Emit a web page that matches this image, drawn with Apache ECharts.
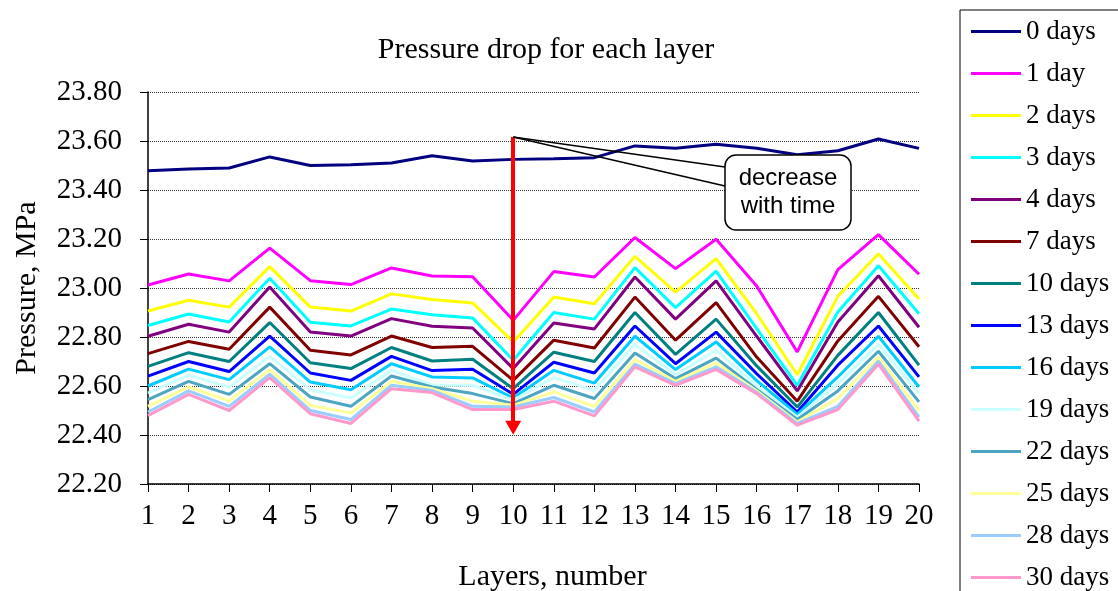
<!DOCTYPE html>
<html>
<head>
<meta charset="utf-8">
<title>Pressure drop for each layer</title>
<script src="https://cdn.jsdelivr.net/npm/echarts@6/dist/echarts.min.js"></script>
<style>
  html, body { margin: 0; padding: 0; background: #fff; }
  #chart { width: 1118px; height: 591px; }
</style>
</head>
<body>
<div id="chart"></div>
<script>
// layers on the x axis
const layers = ['1', '2', '3', '4', '5', '6', '7', '8', '9', '10',
  '11', '12', '13', '14', '15', '16', '17', '18', '19', '20']

const seriesNames = ['0 days', '1 day', '2 days', '3 days', '4 days', '7 days', '10 days',
  '13 days', '16 days', '19 days', '22 days', '25 days', '28 days', '30 days']

// pressure, MPa
const days0 = [23.479, 23.486, 23.490, 23.535, 23.500, 23.503, 23.510, 23.540, 23.518, 23.525,
  23.528, 23.532, 23.580, 23.570, 23.587, 23.570, 23.544, 23.560, 23.608, 23.570]
const days1 = [23.012, 23.057, 23.029, 23.163, 23.030, 23.014, 23.082, 23.049, 23.046, 22.868,
  23.067, 23.045, 23.206, 23.079, 23.199, 23.008, 22.739, 23.075, 23.218, 23.056]
const days2 = [22.906, 22.950, 22.922, 23.087, 22.922, 22.906, 22.976, 22.953, 22.939, 22.780,
  22.963, 22.936, 23.129, 22.983, 23.120, 22.895, 22.646, 22.966, 23.140, 22.955]
const days3 = [22.847, 22.894, 22.861, 23.040, 22.860, 22.845, 22.914, 22.891, 22.878, 22.705,
  22.900, 22.873, 23.083, 22.920, 23.069, 22.834, 22.603, 22.902, 23.091, 22.895]
const days4 = [22.803, 22.852, 22.820, 23.004, 22.820, 22.804, 22.875, 22.844, 22.837, 22.671,
  22.857, 22.833, 23.045, 22.873, 23.029, 22.803, 22.580, 22.861, 23.050, 22.840]
const days7 = [22.732, 22.782, 22.750, 22.922, 22.746, 22.727, 22.804, 22.757, 22.762, 22.623,
  22.787, 22.755, 22.963, 22.787, 22.940, 22.718, 22.538, 22.784, 22.966, 22.760]
const days10 = [22.680, 22.736, 22.700, 22.859, 22.695, 22.671, 22.757, 22.702, 22.709, 22.589,
  22.738, 22.700, 22.900, 22.729, 22.873, 22.682, 22.514, 22.725, 22.900, 22.685]
const days13 = [22.640, 22.700, 22.659, 22.804, 22.653, 22.623, 22.721, 22.663, 22.668, 22.566,
  22.697, 22.653, 22.845, 22.691, 22.820, 22.650, 22.494, 22.685, 22.845, 22.637]
const days16 = [22.600, 22.669, 22.626, 22.760, 22.616, 22.585, 22.691, 22.637, 22.633, 22.551,
  22.664, 22.612, 22.803, 22.667, 22.780, 22.622, 22.484, 22.637, 22.803, 22.596]
const days19 = [22.571, 22.644, 22.596, 22.721, 22.585, 22.551, 22.664, 22.603, 22.603, 22.542,
  22.634, 22.582, 22.770, 22.646, 22.746, 22.600, 22.473, 22.610, 22.770, 22.569]
const days22 = [22.544, 22.619, 22.566, 22.691, 22.555, 22.517, 22.641, 22.596, 22.569, 22.528,
  22.603, 22.549, 22.735, 22.630, 22.714, 22.586, 22.463, 22.580, 22.742, 22.535]
const days25 = [22.517, 22.596, 22.539, 22.667, 22.521, 22.490, 22.619, 22.589, 22.538, 22.521,
  22.576, 22.517, 22.708, 22.619, 22.694, 22.580, 22.453, 22.549, 22.718, 22.500]
const days28 = [22.494, 22.580, 22.517, 22.648, 22.500, 22.463, 22.603, 22.582, 22.517, 22.514,
  22.553, 22.494, 22.689, 22.610, 22.678, 22.574, 22.447, 22.517, 22.702, 22.473]
const days30 = [22.479, 22.566, 22.500, 22.634, 22.487, 22.447, 22.589, 22.573, 22.504, 22.504,
  22.538, 22.478, 22.678, 22.603, 22.668, 22.569, 22.440, 22.504, 22.689, 22.457]

const allData = [days0, days1, days2, days3, days4, days7, days10,
  days13, days16, days19, days22, days25, days28, days30]

// arrow "decrease with time" at layer 10
const arrowLayer = '10'
const arrowFrom = 23.616
const arrowTo = 22.43

const colors = ['#000080', '#ff00ff', '#ffff00', '#00ffff', '#800080', '#800000', '#008080',
  '#0000ff', '#00ccff', '#ccffff', '#4ba5c3', '#ffff99', '#99ccff', '#ff99cc']

const serif = 'Liberation Serif, Times New Roman, serif'

const chart = echarts.init(document.getElementById('chart'))

let series = allData.map((data, i) => ({
  name: seriesNames[i],
  type: 'line',
  data: data,
  symbol: 'none',
  lineStyle: { width: 3, color: colors[i] },
  itemStyle: { color: colors[i] },
  emphasis: { disabled: true }
}))

// red arrow lives on the last series so it is drawn on top
series[series.length - 1].markLine = {
  silent: true,
  symbol: ['none', 'triangle'],
  symbolSize: [16, 14],
  label: { show: false },
  lineStyle: { color: '#ff0000', width: 4, type: 'solid' },
  itemStyle: { color: '#ff0000' },
  data: [[{ coord: [arrowLayer, arrowFrom] }, { coord: [arrowLayer, arrowTo] }]]
}

chart.setOption({
  animation: false,
  color: colors,
  title: {
    text: 'Pressure drop for each layer',
    left: 541,
    top: 30,
    textAlign: 'center',
    textStyle: { fontFamily: serif, fontSize: 30, fontWeight: 'normal', color: '#000' }
  },
  legend: {
    orient: 'vertical',
    left: 960,
    top: 10,
    height: 800,
    data: seriesNames,
    selectedMode: false,
    icon: 'rect',
    itemWidth: 50,
    itemHeight: 3,
    itemGap: 15,
    padding: [8, 60, 40, 11],
    borderColor: '#000',
    borderWidth: 1,
    textStyle: { fontFamily: serif, fontSize: 27, color: '#000' }
  },
  grid: {
    left: 148,
    right: 199,
    top: 92,
    bottom: 107,
    outerBoundsMode: 'none'
  },
  xAxis: {
    type: 'category',
    data: layers,
    boundaryGap: false,
    name: 'Layers, number',
    nameLocation: 'middle',
    nameGap: 78,
    nameTextStyle: { fontFamily: serif, fontSize: 30, color: '#000', padding: [0, 0, 0, 38] },
    axisLine: { lineStyle: { color: '#000', width: 1.5 } },
    axisTick: { length: 8, lineStyle: { color: '#000' } },
    axisLabel: { margin: 18, fontFamily: serif, fontSize: 29, color: '#000' }
  },
  yAxis: {
    type: 'value',
    min: 22.2,
    max: 23.8,
    interval: 0.2,
    name: 'Pressure, MPa',
    nameLocation: 'middle',
    nameGap: 106,
    nameTextStyle: { fontFamily: serif, fontSize: 30, color: '#000' },
    axisLine: { show: true, lineStyle: { color: '#000', width: 1.5 } },
    axisTick: { show: true, length: 8, lineStyle: { color: '#000' } },
    axisLabel: {
      margin: 26,
      fontFamily: serif,
      fontSize: 29,
      color: '#000',
      formatter: v => v.toFixed(2)
    },
    splitLine: { lineStyle: { color: '#333', type: 'dotted', width: 1 } }
  },
  series: series
})

// callout box with its two tail lines, tail starts at the arrow top
const tip = chart.convertToPixel({ xAxisIndex: 0, yAxisIndex: 0 }, [arrowLayer, arrowFrom])
const box = { x: 725, y: 155, w: 126, h: 75 }

chart.setOption({
  graphic: [
    {
      type: 'line',
      z: 100,
      shape: { x1: tip[0], y1: tip[1], x2: box.x, y2: box.y + 12 },
      style: { stroke: '#000', lineWidth: 1.5 }
    },
    {
      type: 'line',
      z: 100,
      shape: { x1: tip[0], y1: tip[1], x2: box.x, y2: box.y + 31 },
      style: { stroke: '#000', lineWidth: 1.5 }
    },
    {
      type: 'rect',
      z: 101,
      shape: { x: box.x, y: box.y, width: box.w, height: box.h, r: 11 },
      style: { fill: '#fff', stroke: '#000', lineWidth: 1.5 }
    },
    {
      type: 'text',
      z: 102,
      x: box.x + box.w / 2,
      y: box.y + box.h / 2,
      style: {
        text: 'decrease\nwith time',
        align: 'center',
        verticalAlign: 'middle',
        fontFamily: 'Liberation Sans, Arial, sans-serif',
        fontSize: 24,
        lineHeight: 28,
        fill: '#000'
      }
    }
  ]
})
</script>
</body>
</html>
